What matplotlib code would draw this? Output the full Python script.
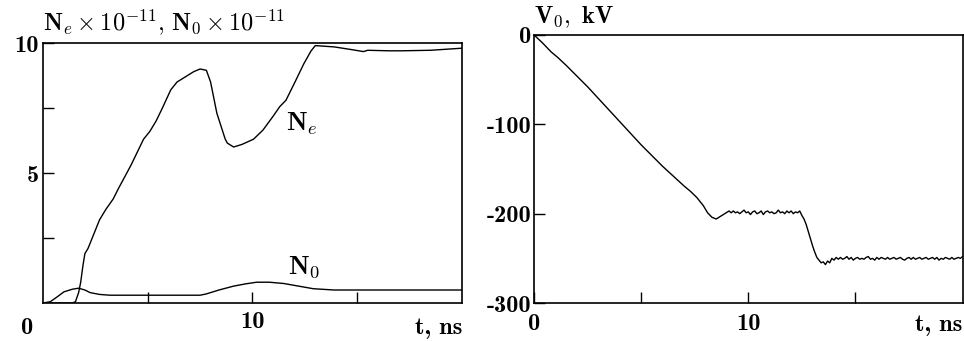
import numpy as np
import matplotlib
matplotlib.use('Agg')
import matplotlib.pyplot as plt

plt.rcParams['mathtext.fontset'] = 'cm'
plt.rcParams['font.family'] = ['cmb10', 'DejaVu Serif']
plt.rcParams['axes.unicode_minus'] = False

# electron density Ne (x1e-11) vs t, ns
t_ne = [0, 1.4, 1.55, 1.7, 1.8, 1.9, 2.0, 2.15, 2.4, 2.7, 3.0, 3.35, 3.6, 3.9,
        4.2, 4.5, 4.8, 5.1, 5.4, 5.7, 6.1, 6.4, 6.6, 6.9, 7.2, 7.5, 7.8, 8.0,
        8.15, 8.3, 8.5, 8.7, 8.8, 9.1, 9.5, 10.05, 10.5, 11.0, 11.3, 11.6, 12.0,
        12.45, 12.8, 13.0, 13.9, 14.7, 15.3, 15.5, 16.5, 17.1, 18.5, 20.0]
ne = [0, 0, 0.05, 0.4, 0.8, 1.4, 1.9, 2.1, 2.6, 3.2, 3.6, 4.0, 4.4, 4.85,
      5.3, 5.8, 6.3, 6.6, 7.0, 7.5, 8.2, 8.5, 8.6, 8.75, 8.9, 9.0, 8.95, 8.5,
      7.9, 7.3, 6.8, 6.3, 6.15, 6.0, 6.1, 6.3, 6.65, 7.2, 7.55, 7.8, 8.45,
      9.2, 9.7, 9.9, 9.85, 9.75, 9.67, 9.72, 9.7, 9.7, 9.72, 9.8]

# neutral density N0 (x1e-11)
t_n0 = [0, 0.35, 0.7, 1.0, 1.4, 1.7, 2.0, 2.25, 2.7, 3.2, 5.0, 7.5, 7.8, 8.4,
        9.1, 9.7, 10.2, 10.8, 11.5, 12.2, 12.9, 13.9, 15.5, 17.5, 20.0]
n0 = [0, 0.05, 0.25, 0.43, 0.53, 0.57, 0.5, 0.4, 0.33, 0.3, 0.3, 0.3, 0.35, 0.5,
      0.65, 0.74, 0.8, 0.8, 0.75, 0.65, 0.55, 0.5, 0.5, 0.5, 0.5]

# voltage V0, kV
t_v = [0, 0.4, 0.8, 1.1, 1.5, 2.0, 2.5, 3.0, 3.5, 4.0, 4.5, 5.0, 5.5, 6.0, 6.5,
       7.0, 7.3, 7.6, 7.9, 8.1, 8.3, 8.5, 8.7, 8.9, 9.1,
       9.2, 9.3, 9.4, 9.5, 9.6, 9.7, 9.8, 9.9, 10.0, 10.1, 10.2, 10.3, 10.4,
       10.5, 10.6, 10.7, 10.8, 10.9, 11.0, 11.1, 11.2, 11.3, 11.4, 11.5, 11.6,
       11.7, 11.8, 11.9, 12.0, 12.1, 12.2, 12.3, 12.4,
       12.5, 12.6, 12.7, 12.8, 12.9, 13.0, 13.1, 13.2, 13.3, 13.4, 13.5, 13.6,
       13.7, 13.8, 13.9, 14.0,
       14.1, 14.2, 14.3, 14.4, 14.5, 14.6, 14.7, 14.8, 14.9, 15.0,
       15.1, 15.2, 15.3, 15.4, 15.5, 15.6, 15.7, 15.8, 15.9, 16.0,
       16.1, 16.2, 16.3, 16.4, 16.5, 16.6, 16.7, 16.8, 16.9, 17.0,
       17.1, 17.2, 17.3, 17.4, 17.5, 17.6, 17.7, 17.8, 17.9, 18.0,
       18.1, 18.2, 18.3, 18.4, 18.5, 18.6, 18.7, 18.8, 18.9, 19.0,
       19.1, 19.2, 19.3, 19.4, 19.5, 19.6, 19.7, 19.8, 19.9, 20.0]
v0 = [0, -9, -19, -25, -34, -46, -58, -71, -84, -97, -110, -123, -135, -147, -158,
      -169, -175, -182, -191, -199, -204, -206, -203, -200, -197,
      -199, -197, -199, -198, -200, -198, -196, -199, -198, -201, -198, -197, -200,
      -199, -197, -201, -198, -197, -199, -198, -200, -199, -196, -199, -198,
      -200, -197, -199, -197, -200, -198, -199, -197,
      -202, -206, -212, -220, -228, -236, -243, -249, -252, -255, -254, -257,
      -253, -255, -250, -252,
      -249, -251, -249, -251, -250, -248, -251, -249, -252, -250,
      -249, -251, -250, -251, -249, -248, -251, -250, -252, -249,
      -251, -249, -250, -251, -249, -251, -250, -249, -251, -250,
      -249, -251, -252, -250, -249, -251, -249, -251, -250, -249,
      -251, -250, -249, -251, -250, -249, -251, -249, -252, -250,
      -251, -249, -250, -251, -249, -251, -250, -249, -250, -248]

fig = plt.figure(figsize=(9.64, 3.41), dpi=100)
fs = 17.5

# left panel
ax1 = fig.add_axes([0.0446, 0.1114, 0.4346, 0.7625])
ax1.plot(t_ne, ne, color='black', lw=1.0)
ax1.plot(t_n0, n0, color='black', lw=1.0)
ax1.set_xlim(0, 20)
ax1.set_ylim(0, 10)
ax1.set_xticks([5, 10, 15])
ax1.set_xticklabels(['', '10', ''])
ax1.set_yticks([2.5, 5, 7.5, 10])
ax1.set_yticklabels(['', '5', '', '10'])
ax1.tick_params(direction='in', length=8, width=1, labelsize=fs, pad=6)
ax1.tick_params(axis='y', pad=3)
ax1.text(-0.75, -0.95, '0', fontsize=fs, ha='center', va='center')
ax1.text(20, -0.95, 't, ns', fontsize=fs, ha='right', va='center')
ax1.text(11.6, 6.9, r'$\mathbf{N}_e$', fontsize=fs + 1.5, ha='left', va='center')
ax1.text(11.7, 1.4, r'$\mathbf{N}_0$', fontsize=fs + 1.5, ha='left', va='center')
ax1.text(0, 1.02, r'$\mathbf{N}_e\times\mathbf{10}^{\mathbf{-11}}\mathbf{,}\ '
         r'\mathbf{N}_0\times\mathbf{10}^{\mathbf{-11}}$',
         transform=ax1.transAxes, fontsize=fs, ha='left', va='bottom')

# right panel
ax2 = fig.add_axes([0.554, 0.1114, 0.4445, 0.786])
ax2.plot(t_v, v0, color='black', lw=1.0)
ax2.set_xlim(0, 20)
ax2.set_ylim(-300, 0)
ax2.set_xticks([0, 5, 10, 15])
ax2.set_xticklabels(['0', '', '10', ''])
ax2.set_yticks([0, -100, -200, -300])
ax2.set_yticklabels(['0', '-100', '-200', '-300'])
ax2.tick_params(direction='in', length=8, width=1, labelsize=fs, pad=7)
ax2.tick_params(axis='y', pad=2)
ax2.text(20, -325, 't, ns', fontsize=fs, ha='right', va='center')
ax2.text(0, 1.02, r'$\mathbf{V}_0\mathbf{,\ kV}$',
         transform=ax2.transAxes, fontsize=fs, ha='left', va='bottom')

for ax in (ax1, ax2):
    for s in ax.spines.values():
        s.set_linewidth(1.2)

fig.savefig('out.png', dpi=100)
